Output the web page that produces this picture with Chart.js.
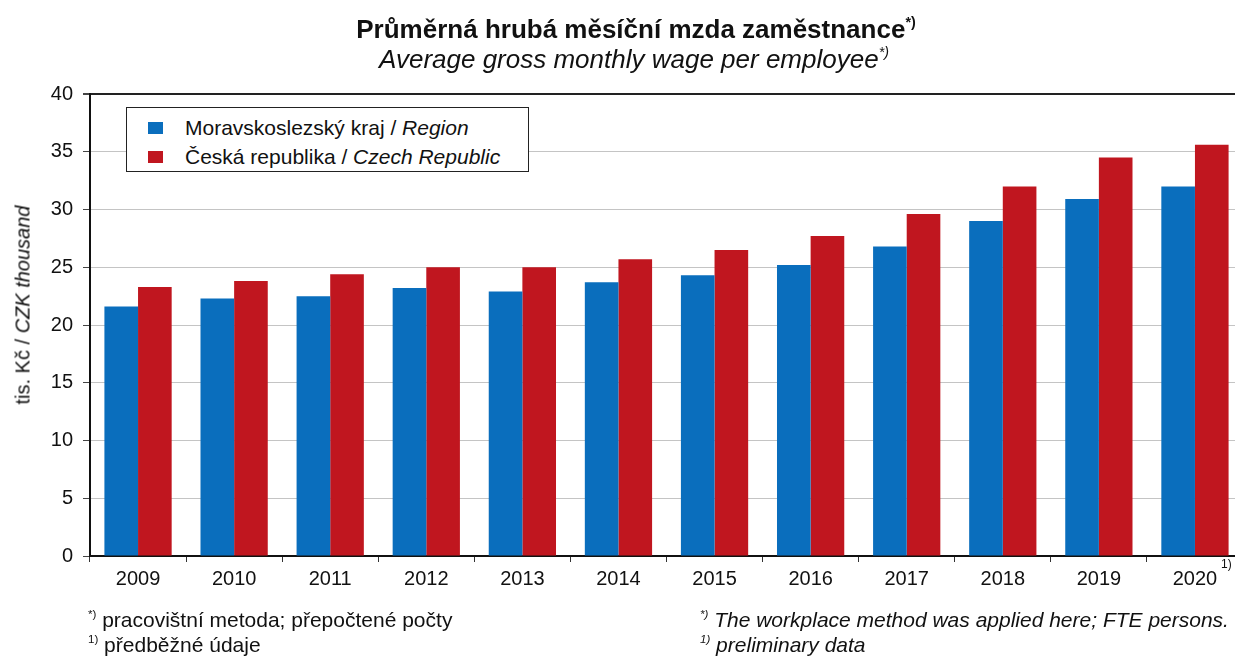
<!DOCTYPE html>
<html>
<head>
<meta charset="utf-8">
<script src="https://cdn.jsdelivr.net/npm/chart.js@4"></script>
<style>
  html, body { margin: 0; padding: 0; background: #fff; overflow: hidden; }
  body { width: 1235px; height: 662px; position: relative; font-family: "Liberation Sans", Arial, sans-serif; color: #111; }
  #wrap { position: absolute; left: 0; top: 0; width: 1250px; height: 662px; }
  .txt { position: absolute; white-space: nowrap; }
  .sup { font-size: 0.55em; vertical-align: 0.75em; }
  #legend { position: absolute; left: 126px; top: 107px; width: 401px; height: 63px; border: 1.5px solid #222; background: #fff; }
  .item { position: absolute; left: 21px; font-size: 21px; line-height: 24px; }
  .item i.box { display: inline-block; width: 15px; height: 12px; margin-right: 22px; vertical-align: 1px; }
</style>
</head>
<body>
<div id="wrap"><canvas id="c" width="1250" height="662"></canvas></div>

<div class="txt" style="left:0;width:1272px;top:7px;text-align:center;font-weight:bold;font-size:26px;line-height:30px;">Průměrná hrubá měsíční mzda zaměstnance<span class="sup">*)</span></div>
<div class="txt" style="left:0;width:1268px;top:37px;text-align:center;font-style:italic;font-size:26px;line-height:30px;">Average gross monthly wage per employee<span class="sup">*)</span></div>

<div class="txt" style="left:23px;top:305px;font-size:20px;transform:translate(-50%,-50%) rotate(-90deg);">tis. Kč / <i>CZK thousand</i></div>

<div id="legend"></div>

<div class="txt" style="left:1221px;top:557px;font-size:12px;">1)</div>

<div class="txt" style="left:88px;top:601px;font-size:21px;line-height:26px;"><span class="sup">*)</span> pracovištní metoda; přepočtené počty</div>
<div class="txt" style="left:88px;top:626px;font-size:21px;line-height:26px;"><span class="sup">1)</span> předběžné údaje</div>
<div class="txt" style="left:700px;top:601px;font-size:21px;line-height:26px;font-style:italic;"><span class="sup">*)</span> The workplace method was applied here; FTE persons.</div>
<div class="txt" style="left:700px;top:626px;font-size:21px;line-height:26px;font-style:italic;"><span class="sup">1)</span> preliminary data</div>

<script>
const years = ['2009', '2010', '2011', '2012', '2013', '2014', '2015', '2016', '2017', '2018', '2019', '2020'];
const regionWage = [21.6, 22.3, 22.5, 23.2, 22.9, 23.7, 24.3, 25.2, 26.8, 29.0, 30.9, 32.0];
const czechWage = [23.3, 23.8, 24.4, 25.0, 25.0, 25.7, 26.5, 27.7, 29.6, 32.0, 34.5, 35.6];
const yTicks = [0, 5, 10, 15, 20, 25, 30, 35, 40];

const seriesNames = [
    ['Moravskoslezský kraj', 'Region'],
    ['Česká republika', 'Czech Republic']
];
const colors = ['#0A6EBD', '#C0161F'];

// legend with mixed upright / italic text
document.getElementById('legend').innerHTML = seriesNames.map((n, i) => `
    <div class="item" style="top:${8 + i * 29}px"><i class="box" style="background:${colors[i]}"></i>${n[0]} / <i>${n[1]}</i></div>
`).join('');

new Chart(document.getElementById('c').getContext('2d'), {
    type: 'bar',
    data: {
        labels: years,
        datasets: [
            { label: seriesNames[0].join(' / '), data: regionWage, backgroundColor: colors[0], categoryPercentage: 0.7, barPercentage: 1 },
            { label: seriesNames[1].join(' / '), data: czechWage, backgroundColor: colors[1], categoryPercentage: 0.7, barPercentage: 1 }
        ]
    },
    options: {
        responsive: false,
        animation: false,
        layout: { padding: { left: 0, top: 94, right: 7, bottom: 0 } },
        plugins: { legend: { display: false }, tooltip: { enabled: false } },
        scales: {
            x: {
                offset: true,
                grid: { offset: true, drawOnChartArea: false, drawTicks: true, tickLength: 6, color: '#333' },
                border: { color: '#111', width: 2 },
                ticks: { color: '#111', font: { family: 'Liberation Sans', size: 20 }, padding: 5, maxRotation: 0 },
                afterFit: (s) => { s.height = 106; }
            },
            y: {
                min: 0,
                max: 40,
                afterBuildTicks: (s) => { s.ticks = yTicks.map((v) => ({ value: v })); },
                grid: {
                    color: (c) => (c.tick && c.tick.value === 40 ? '#222' : '#c4c4c4'),
                    lineWidth: (c) => (c.tick && c.tick.value === 40 ? 2 : 1),
                    tickColor: '#444',
                    tickLength: 7
                },
                border: { color: '#111', width: 2 },
                ticks: { color: '#111', font: { family: 'Liberation Sans', size: 20 }, padding: 10 },
                afterFit: (s) => { s.width = 90; }
            }
        }
    }
});
</script>
</body>
</html>
